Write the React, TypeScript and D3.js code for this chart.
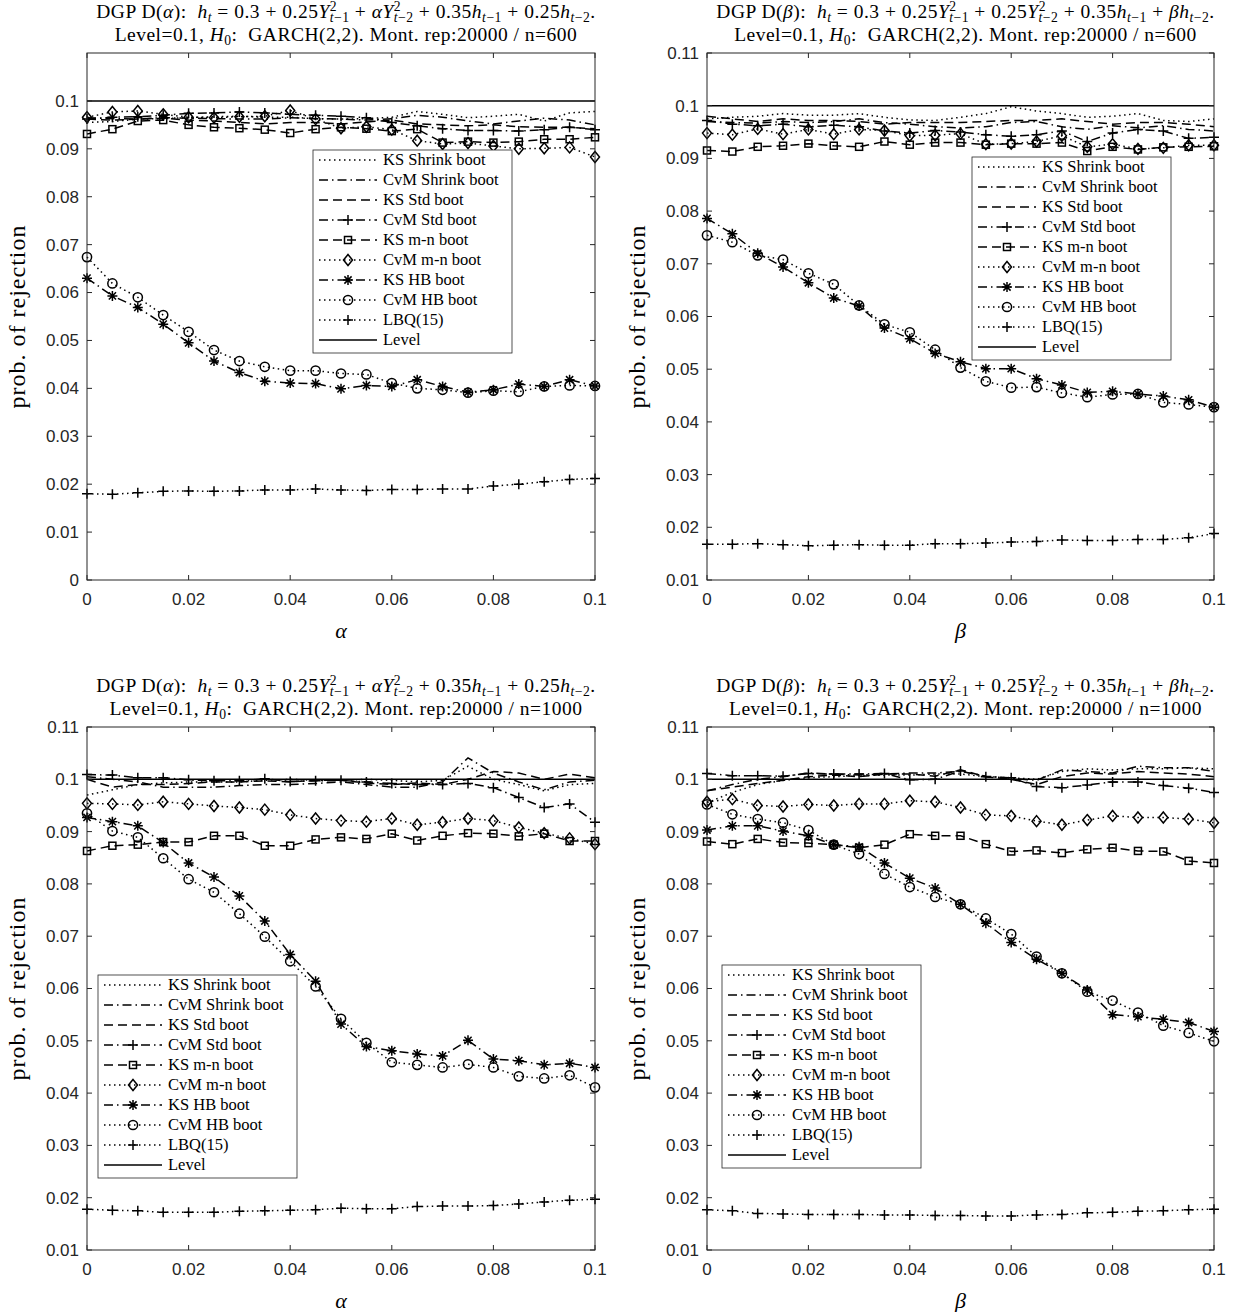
import * as d3 from "d3";

// grid of the x parameter (alpha / beta)
const xGrid = [0, 0.005, 0.01, 0.015, 0.02, 0.025, 0.03, 0.035, 0.04, 0.045, 0.05,
  0.055, 0.06, 0.065, 0.07, 0.075, 0.08, 0.085, 0.09, 0.095, 0.1];

const xTickValues = [0, 0.02, 0.04, 0.06, 0.08, 0.1];
const xTickLabels = ["0", "0.02", "0.04", "0.06", "0.08", "0.1"];
const yTicksFromZero = [0, 0.01, 0.02, 0.03, 0.04, 0.05, 0.06, 0.07, 0.08, 0.09, 0.1];
const yLabelsFromZero = ["0", "0.01", "0.02", "0.03", "0.04", "0.05", "0.06", "0.07", "0.08", "0.09", "0.1"];
const yTicksFromOne = [0.01, 0.02, 0.03, 0.04, 0.05, 0.06, 0.07, 0.08, 0.09, 0.1, 0.11];
const yLabelsFromOne = ["0.01", "0.02", "0.03", "0.04", "0.05", "0.06", "0.07", "0.08", "0.09", "0.1", "0.11"];

const seriesNames = ["KS Shrink boot", "CvM Shrink boot", "KS Std boot", "CvM Std boot", "KS m-n boot",
  "CvM m-n boot", "KS HB boot", "CvM HB boot", "LBQ(15)", "Level"];
const levelValue = 0.1;

// top left: D(alpha), n=600
const tlKSShrink = [0.0955, 0.0957, 0.0962, 0.0963, 0.0965, 0.0967, 0.0968, 0.0966, 0.0966, 0.0963, 0.0962, 0.0963, 0.0966, 0.0978, 0.0972, 0.0965, 0.0968, 0.0972, 0.0958, 0.0975, 0.0978];
const tlCvMShrink = [0.0965, 0.0963, 0.0962, 0.0965, 0.0964, 0.0963, 0.0962, 0.0962, 0.0965, 0.0963, 0.0962, 0.0960, 0.0963, 0.0970, 0.0966, 0.0958, 0.0952, 0.0958, 0.0964, 0.0960, 0.0950];
const tlKSStd = [0.0962, 0.0960, 0.0962, 0.0964, 0.0960, 0.0958, 0.0955, 0.0952, 0.0955, 0.0955, 0.0952, 0.0956, 0.0960, 0.0952, 0.0950, 0.0948, 0.0950, 0.0946, 0.0945, 0.0945, 0.0942];
const tlCvMStd = [0.0962, 0.0966, 0.0967, 0.0970, 0.0974, 0.0975, 0.0977, 0.0975, 0.0972, 0.0970, 0.0968, 0.0965, 0.0955, 0.0948, 0.0942, 0.0938, 0.0938, 0.0937, 0.0940, 0.0945, 0.0940];
const tlKSmn = [0.0931, 0.0941, 0.0958, 0.0960, 0.0950, 0.0945, 0.0943, 0.0940, 0.0933, 0.0941, 0.0945, 0.0942, 0.0937, 0.0941, 0.0913, 0.0915, 0.0913, 0.0915, 0.0920, 0.0920, 0.0924];
const tlCvMmn = [0.0966, 0.0977, 0.0979, 0.0972, 0.0966, 0.0965, 0.0967, 0.0968, 0.0980, 0.0962, 0.0943, 0.0946, 0.0940, 0.0917, 0.0910, 0.0912, 0.0906, 0.0900, 0.0901, 0.0903, 0.0883];
const tlKSHB = [0.0630, 0.0593, 0.0569, 0.0534, 0.0495, 0.0457, 0.0433, 0.0415, 0.0411, 0.0410, 0.0399, 0.0406, 0.0404, 0.0418, 0.0404, 0.0392, 0.0397, 0.0409, 0.0404, 0.0418, 0.0405];
const tlCvMHB = [0.0674, 0.0619, 0.0590, 0.0553, 0.0518, 0.0480, 0.0457, 0.0445, 0.0437, 0.0437, 0.0431, 0.0429, 0.0411, 0.0400, 0.0397, 0.0391, 0.0395, 0.0393, 0.0404, 0.0406, 0.0405];
const tlLBQ = [0.0180, 0.0179, 0.0182, 0.0185, 0.0186, 0.0185, 0.0186, 0.0188, 0.0188, 0.0190, 0.0188, 0.0187, 0.0189, 0.0189, 0.0190, 0.0190, 0.0196, 0.0200, 0.0205, 0.0210, 0.0212];

// top right: D(beta), n=600
const trKSShrink = [0.0975, 0.0978, 0.0980, 0.0985, 0.0982, 0.0982, 0.0985, 0.0978, 0.0973, 0.0972, 0.0978, 0.0985, 0.0998, 0.0990, 0.0985, 0.0978, 0.0980, 0.0985, 0.0972, 0.0970, 0.0975];
const trCvMShrink = [0.0970, 0.0968, 0.0967, 0.0970, 0.0968, 0.0970, 0.0975, 0.0968, 0.0965, 0.0960, 0.0958, 0.0960, 0.0968, 0.0970, 0.0960, 0.0955, 0.0962, 0.0958, 0.0962, 0.0955, 0.0952];
const trKSStd = [0.0980, 0.0975, 0.0970, 0.0975, 0.0972, 0.0972, 0.0970, 0.0965, 0.0968, 0.0968, 0.0968, 0.0970, 0.0972, 0.0972, 0.0975, 0.0970, 0.0965, 0.0968, 0.0968, 0.0965, 0.0960];
const trCvMStd = [0.0972, 0.0965, 0.0962, 0.0965, 0.0960, 0.0963, 0.0960, 0.0952, 0.0948, 0.0953, 0.0950, 0.0945, 0.0942, 0.0945, 0.0952, 0.0932, 0.0948, 0.0955, 0.0952, 0.0938, 0.0940];
const trKSmn = [0.0915, 0.0913, 0.0922, 0.0924, 0.0928, 0.0924, 0.0922, 0.0932, 0.0926, 0.0930, 0.0930, 0.0926, 0.0928, 0.0928, 0.0930, 0.0914, 0.0922, 0.0917, 0.0921, 0.0922, 0.0923];
const trCvMmn = [0.0948, 0.0945, 0.0956, 0.0946, 0.0955, 0.0946, 0.0955, 0.0953, 0.0943, 0.0944, 0.0947, 0.0927, 0.0928, 0.0932, 0.0943, 0.0922, 0.0927, 0.0918, 0.0920, 0.0925, 0.0925];
const trKSHB = [0.0786, 0.0757, 0.0720, 0.0694, 0.0664, 0.0635, 0.0620, 0.0578, 0.0558, 0.0530, 0.0514, 0.0501, 0.0501, 0.0482, 0.0470, 0.0456, 0.0458, 0.0453, 0.0449, 0.0442, 0.0428];
const trCvMHB = [0.0754, 0.0741, 0.0716, 0.0708, 0.0682, 0.0661, 0.0621, 0.0585, 0.0570, 0.0537, 0.0503, 0.0477, 0.0465, 0.0466, 0.0455, 0.0447, 0.0452, 0.0453, 0.0437, 0.0433, 0.0428];
const trLBQ = [0.0168, 0.0168, 0.0169, 0.0167, 0.0165, 0.0166, 0.0167, 0.0166, 0.0166, 0.0169, 0.0169, 0.0170, 0.0172, 0.0173, 0.0176, 0.0175, 0.0175, 0.0177, 0.0177, 0.0180, 0.0188];

// bottom left: D(alpha), n=1000
const blKSShrink = [0.0970, 0.0980, 0.0990, 0.0993, 0.0995, 0.0995, 0.0995, 0.0998, 0.1000, 0.0998, 0.0998, 0.1000, 0.0998, 0.0995, 0.0998, 0.1025, 0.1000, 0.0990, 0.0978, 0.0990, 0.0992];
const blCvMShrink = [0.1005, 0.1000, 0.0995, 0.0985, 0.0985, 0.0985, 0.0988, 0.0990, 0.0990, 0.0992, 0.0995, 0.0990, 0.0985, 0.0985, 0.0995, 0.1041, 0.1012, 0.0995, 0.0980, 0.0995, 0.0998];
const blKSStd = [0.1000, 0.0985, 0.0990, 0.0990, 0.0992, 0.0995, 0.0995, 0.0997, 0.0995, 0.0998, 0.0998, 0.0993, 0.0990, 0.0993, 0.0990, 0.1000, 0.1015, 0.1012, 0.1000, 0.1010, 0.1003];
const blCvMStd = [0.1009, 0.1008, 0.1003, 0.1003, 0.0999, 0.0997, 0.0997, 0.1001, 0.0996, 0.0997, 0.0998, 0.0995, 0.0992, 0.0990, 0.0990, 0.0992, 0.0984, 0.0965, 0.0946, 0.0953, 0.0918];
const blKSmn = [0.0863, 0.0873, 0.0875, 0.0880, 0.0880, 0.0892, 0.0892, 0.0873, 0.0873, 0.0885, 0.0889, 0.0886, 0.0896, 0.0883, 0.0892, 0.0897, 0.0896, 0.0891, 0.0896, 0.0882, 0.0882];
const blCvMmn = [0.0954, 0.0953, 0.0951, 0.0957, 0.0953, 0.0949, 0.0946, 0.0942, 0.0932, 0.0925, 0.0921, 0.0919, 0.0925, 0.0913, 0.0918, 0.0925, 0.0921, 0.0908, 0.0897, 0.0887, 0.0876];
const blKSHB = [0.0927, 0.0919, 0.0911, 0.0879, 0.0840, 0.0813, 0.0777, 0.0729, 0.0665, 0.0614, 0.0532, 0.0489, 0.0481, 0.0475, 0.0471, 0.0501, 0.0465, 0.0462, 0.0454, 0.0457, 0.0449];
const blCvMHB = [0.0935, 0.0901, 0.0889, 0.0849, 0.0809, 0.0784, 0.0743, 0.0699, 0.0652, 0.0604, 0.0542, 0.0496, 0.0459, 0.0454, 0.0449, 0.0455, 0.0449, 0.0432, 0.0428, 0.0434, 0.0411];
const blLBQ = [0.0178, 0.0176, 0.0175, 0.0172, 0.0172, 0.0172, 0.0174, 0.0175, 0.0176, 0.0177, 0.0180, 0.0179, 0.0179, 0.0183, 0.0184, 0.0184, 0.0185, 0.0188, 0.0192, 0.0195, 0.0197];

// bottom right: D(beta), n=1000
const brKSShrink = [0.0955, 0.0975, 0.0990, 0.0998, 0.1003, 0.1005, 0.1007, 0.1008, 0.1008, 0.1010, 0.1010, 0.1005, 0.1003, 0.1000, 0.1015, 0.1020, 0.1018, 0.1020, 0.1020, 0.1022, 0.1020];
const brCvMShrink = [0.0978, 0.0990, 0.1000, 0.1005, 0.1012, 0.1010, 0.1008, 0.1010, 0.1012, 0.1012, 0.1015, 0.1006, 0.1002, 0.0998, 0.1018, 0.1015, 0.1012, 0.1025, 0.1022, 0.1022, 0.1015];
const brKSStd = [0.0978, 0.0985, 0.0992, 0.0998, 0.1005, 0.1008, 0.1005, 0.1010, 0.1010, 0.1006, 0.1018, 0.1005, 0.1000, 0.0990, 0.1005, 0.1012, 0.1010, 0.1015, 0.1012, 0.1010, 0.1005];
const brCvMStd = [0.1011, 0.1007, 0.1007, 0.1006, 0.1011, 0.1010, 0.1010, 0.1011, 0.0999, 0.1000, 0.1016, 0.1005, 0.1003, 0.0986, 0.0984, 0.0989, 0.0995, 0.0995, 0.0988, 0.0983, 0.0975];
const brKSmn = [0.0881, 0.0876, 0.0886, 0.0879, 0.0878, 0.0875, 0.0869, 0.0875, 0.0895, 0.0892, 0.0892, 0.0876, 0.0862, 0.0864, 0.0859, 0.0866, 0.0869, 0.0863, 0.0862, 0.0844, 0.0840];
const brCvMmn = [0.0957, 0.0962, 0.0950, 0.0948, 0.0952, 0.0950, 0.0953, 0.0953, 0.0959, 0.0957, 0.0946, 0.0932, 0.0930, 0.0920, 0.0913, 0.0922, 0.0930, 0.0927, 0.0927, 0.0924, 0.0917];
const brKSHB = [0.0903, 0.0911, 0.0911, 0.0901, 0.0892, 0.0875, 0.0871, 0.0840, 0.0811, 0.0792, 0.0761, 0.0725, 0.0688, 0.0656, 0.0629, 0.0597, 0.0550, 0.0546, 0.0541, 0.0535, 0.0518];
const brCvMHB = [0.0952, 0.0933, 0.0924, 0.0917, 0.0903, 0.0875, 0.0857, 0.0819, 0.0794, 0.0775, 0.0761, 0.0734, 0.0704, 0.0661, 0.0629, 0.0594, 0.0577, 0.0554, 0.0529, 0.0515, 0.0499];
const brLBQ = [0.0177, 0.0175, 0.0170, 0.0169, 0.0168, 0.0168, 0.0168, 0.0167, 0.0167, 0.0166, 0.0166, 0.0165, 0.0165, 0.0167, 0.0168, 0.0171, 0.0172, 0.0174, 0.0175, 0.0177, 0.0178];

const DOT = "1.5 3.5";
const DASH = "9 5";
const DASHDOT = "9 4 1.5 4";
const lineStyles = [
  { dash: DOT, marker: null },
  { dash: DASHDOT, marker: null },
  { dash: DASH, marker: null },
  { dash: DASHDOT, marker: "plus" },
  { dash: DASH, marker: "square" },
  { dash: DOT, marker: "diamond" },
  { dash: DASHDOT, marker: "star" },
  { dash: DOT, marker: "circle" },
  { dash: DOT, marker: "plus" },
  { dash: null, marker: null },
];

const serif = "'Liberation Serif', 'Times New Roman', serif";
const sans = "'Liberation Sans', Arial, sans-serif";

function Marker({ type, x, y }: { type: string | null; x: number; y: number }) {
  if (!type) return null;
  if (type === "square") return <rect x={x - 3.5} y={y - 3.5} width={7} height={7} fill="none" />;
  if (type === "diamond") return <path d={`M${x},${y - 5.5}L${x + 4.5},${y}L${x},${y + 5.5}L${x - 4.5},${y}Z`} fill="none" />;
  if (type === "circle") return <circle cx={x} cy={y} r={4.6} fill="none" />;
  if (type === "plus") return <path d={`M${x - 5},${y}H${x + 5}M${x},${y - 5}V${y + 5}`} />;
  // MATLAB asterisk
  const d = 3.6;
  return <path d={`M${x - 5},${y}H${x + 5}M${x},${y - 5}V${y + 5}M${x - d},${y - d}L${x + d},${y + d}M${x - d},${y + d}L${x + d},${y - d}`} />;
}

type Piece = [string, string];

function MathLine({ x, y, pieces, size }: { x: number; y: number; pieces: Piece[]; size: number }) {
  let cur = 0;
  const small = size * 0.7;
  const out: any[] = [];
  const subText = (s: string) =>
    s[0] === "t" ? [<tspan key="t" fontStyle="italic">t</tspan>, s.slice(1)] : s;
  pieces.forEach(([kind, txt], k) => {
    if (kind === "r" || kind === "i") {
      out.push(<tspan key={k} dy={-cur} fontSize={size} fontStyle={kind === "i" ? "italic" : "normal"}>{txt}</tspan>);
      cur = 0;
    } else if (kind === "sub") {
      out.push(<tspan key={k} dy={4 - cur} fontSize={small}>{subText(txt)}</tspan>);
      cur = 4;
    } else {
      const [sup, sub] = txt.split("|");
      out.push(<tspan key={k + "a"} dy={-7 - cur} fontSize={small}>{sup}</tspan>);
      out.push(<tspan key={k + "b"} dx={-small * 0.55} dy={11} fontSize={small}>{subText(sub)}</tspan>);
      cur = 4;
    }
  });
  return (
    <text x={x} y={y} textAnchor="middle" fontFamily={serif} fontSize={size} letterSpacing={0.5}
      style={{ whiteSpace: "pre" }}>
      {out}
    </text>
  );
}

function titleAlpha(): Piece[] {
  return [["r", "DGP D("], ["i", "α"], ["r", "):  "], ["i", "h"], ["sub", "t"], ["r", " = 0.3 + 0.25"], ["i", "Y"],
    ["ss", "2|t−1"], ["r", " + "], ["i", "αY"], ["ss", "2|t−2"], ["r", " + 0.35"], ["i", "h"], ["sub", "t−1"],
    ["r", " + 0.25"], ["i", "h"], ["sub", "t−2"], ["r", "."]];
}
function titleBeta(): Piece[] {
  return [["r", "DGP D("], ["i", "β"], ["r", "):  "], ["i", "h"], ["sub", "t"], ["r", " = 0.3 + 0.25"], ["i", "Y"],
    ["ss", "2|t−1"], ["r", " + 0.25"], ["i", "Y"], ["ss", "2|t−2"], ["r", " + 0.35"], ["i", "h"], ["sub", "t−1"],
    ["r", " + "], ["i", "βh"], ["sub", "t−2"], ["r", "."]];
}
function titleLevel(n: string): Piece[] {
  return [["r", "Level=0.1, "], ["i", "H"], ["sub", "0"], ["r", ":  GARCH(2,2). Mont. rep:20000 / n=" + n]];
}

function Panel({ left, top, width, height, yDomain, yTicks, yLabels, series, title, n, xLabel, legendX, legendY }: any) {
  const x = d3.scaleLinear().domain([0, 0.1]).range([left, left + width]);
  const y = d3.scaleLinear().domain(yDomain).range([top + height, top]);
  const line = d3.line<number>().x((_, i) => x(xGrid[i])).y(d => y(d));
  const right = left + width;
  const bottom = top + height;
  const cx = left + width / 2;
  const tick = 5;

  return (
    <g>
      <MathLine x={cx + 5} y={top - 35} pieces={title} size={19.5} />
      <MathLine x={cx + 5} y={top - 12} pieces={titleLevel(n)} size={19.5} />

      {/* data */}
      <g fill="none" stroke="#000" strokeWidth={1.5}>
        {series.map((s: number[], k: number) => (
          <g key={k}>
            <path d={line(s) || ""} strokeDasharray={lineStyles[k].dash || undefined} />
            {s.map((v, i) => <Marker key={i} type={lineStyles[k].marker} x={x(xGrid[i])} y={y(v)} />)}
          </g>
        ))}
        <line x1={left} x2={right} y1={y(levelValue)} y2={y(levelValue)} />
      </g>

      {/* axes box and ticks */}
      <g stroke="#262626" strokeWidth={1} fill="none">
        <rect x={left} y={top} width={width} height={height} />
        {yTicks.map((t: number) => (
          <path key={t} d={`M${left},${y(t)}h${tick}M${right},${y(t)}h${-tick}`} />
        ))}
        {xTickValues.map(t => (
          <path key={t} d={`M${x(t)},${bottom}v${-tick}M${x(t)},${top}v${tick}`} />
        ))}
      </g>
      <g fontFamily={sans} fontSize={17} fill="#262626">
        {yTicks.map((t: number, i: number) => (
          <text key={t} x={left - 8} y={y(t)} dy="0.35em" textAnchor="end">{yLabels[i]}</text>
        ))}
        {xTickValues.map((t, i) => (
          <text key={t} x={x(t)} y={bottom + 25} textAnchor="middle">{xTickLabels[i]}</text>
        ))}
      </g>
      <text x={cx} y={bottom + 58} textAnchor="middle" fontFamily={serif} fontSize={22} fontStyle="italic">{xLabel}</text>
      <text transform={`translate(${left - 62},${top + height / 2}) rotate(-90)`} textAnchor="middle"
        fontFamily={serif} fontSize={24} letterSpacing={1}>prob. of rejection</text>

      {/* legend */}
      <g transform={`translate(${legendX},${legendY})`}>
        <rect x={0} y={0} width={199} height={203} fill="#fff" stroke="#262626" strokeWidth={0.8} />
        {seriesNames.map((name, k) => {
          const ry = 10 + k * 20;
          return (
            <g key={name}>
              <g fill="none" stroke="#000" strokeWidth={1.5}>
                <path d={`M6,${ry}H64`} strokeDasharray={lineStyles[k].dash || undefined} />
                <Marker type={lineStyles[k].marker} x={35} y={ry} />
              </g>
              <text x={70} y={ry} dy="0.33em" fontFamily={serif} fontSize={16.5}>{name}</text>
            </g>
          );
        })}
      </g>
    </g>
  );
}

export default function App() {
  const panels = [
    { left: 87, top: 53, width: 508, height: 527, yDomain: [0, 0.11], yTicks: yTicksFromZero, yLabels: yLabelsFromZero,
      series: [tlKSShrink, tlCvMShrink, tlKSStd, tlCvMStd, tlKSmn, tlCvMmn, tlKSHB, tlCvMHB, tlLBQ],
      title: titleAlpha(), n: "600", xLabel: "α", legendX: 313, legendY: 150 },
    { left: 707, top: 53, width: 507, height: 527, yDomain: [0.01, 0.11], yTicks: yTicksFromOne, yLabels: yLabelsFromOne,
      series: [trKSShrink, trCvMShrink, trKSStd, trCvMStd, trKSmn, trCvMmn, trKSHB, trCvMHB, trLBQ],
      title: titleBeta(), n: "600", xLabel: "β", legendX: 972, legendY: 157 },
    { left: 87, top: 727, width: 508, height: 523, yDomain: [0.01, 0.11], yTicks: yTicksFromOne, yLabels: yLabelsFromOne,
      series: [blKSShrink, blCvMShrink, blKSStd, blCvMStd, blKSmn, blCvMmn, blKSHB, blCvMHB, blLBQ],
      title: titleAlpha(), n: "1000", xLabel: "α", legendX: 98, legendY: 975 },
    { left: 707, top: 727, width: 507, height: 523, yDomain: [0.01, 0.11], yTicks: yTicksFromOne, yLabels: yLabelsFromOne,
      series: [brKSShrink, brCvMShrink, brKSStd, brCvMStd, brKSmn, brCvMmn, brKSHB, brCvMHB, brLBQ],
      title: titleBeta(), n: "1000", xLabel: "β", legendX: 722, legendY: 965 },
  ];
  return (
    <svg width={1244} height={1312} style={{ position: "absolute", left: 0, top: 0, background: "#fff" }}>
      <rect width={1244} height={1312} fill="#fff" />
      {panels.map((p, i) => <Panel key={i} {...p} />)}
    </svg>
  );
}
